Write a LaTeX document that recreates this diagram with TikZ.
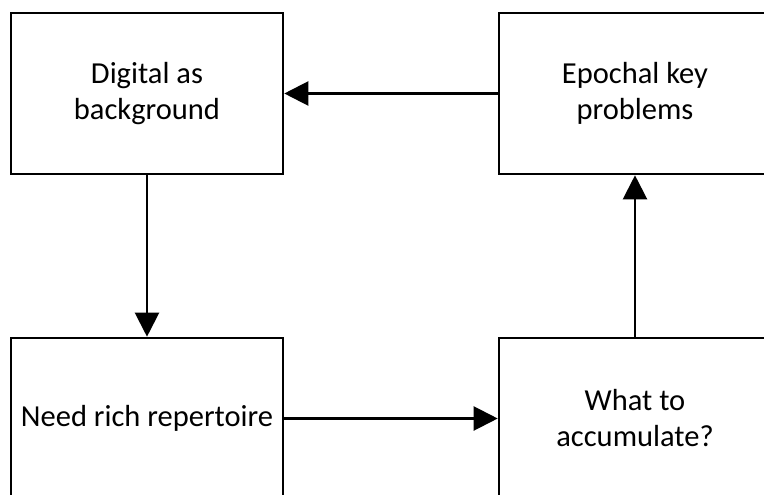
\documentclass[tikz,border=0pt]{standalone}
\usepackage{fontspec}
\setmainfont{Carlito}
\usetikzlibrary{arrows.meta}
\begin{document}
\begin{tikzpicture}[x=1pt,y=-1pt,
  stagebox/.style={draw=black, line width=2.6pt, fill=white, rectangle,
    minimum width=272pt, minimum height=161pt, inner sep=0pt,
    align=center, font=\fontsize{30.5}{36}\selectfont},
  flow/.style={draw=black, line width=2.2pt,
    -{Triangle[length=24pt,width=24pt]}}]
  \useasboundingbox (0,0) rectangle (764,495);
  \clip (0,0) rectangle (764,495);
  \node[stagebox] (digital) at (147,93.5) {Digital as\\background};
  \node[stagebox] (epochal) at (635,93.5) {Epochal key\\problems};
  \node[stagebox] (need) at (147,418.5) {Need rich repertoire};
  \node[stagebox] (what) at (635,418.5) {What to\\accumulate?};
  \draw[flow] (epochal.west) -- (digital.east);
  \draw[flow] (digital.south) -- (need.north);
  \draw[flow] (need.east) -- (what.west);
  \draw[flow] (what.north) -- (epochal.south);
\end{tikzpicture}
\end{document}
